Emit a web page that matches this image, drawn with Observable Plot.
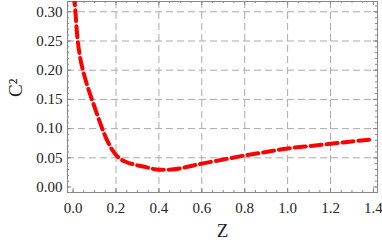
<!DOCTYPE html>
<html><head><meta charset="utf-8">
<script src="https://cdn.jsdelivr.net/npm/d3@7"></script>
<script src="https://cdn.jsdelivr.net/npm/@observablehq/plot@0.6"></script>
<style>body{margin:0;background:#fff} svg, svg text, svg g{font-family:"Liberation Serif","Times New Roman",Times,Tinos,"Noto Serif","DejaVu Serif",serif !important;}</style>
</head><body><div id="chart"></div>
<script>
const zValues = [0.005, 0.011, 0.02, 0.03, 0.04, 0.06, 0.08, 0.10, 0.12, 0.14, 0.16, 0.18, 0.20, 0.22, 0.24, 0.26, 0.28, 0.30, 0.34, 0.38, 0.42, 0.46, 0.50, 0.55, 0.60, 0.70, 0.80, 0.90, 1.00, 1.10, 1.20, 1.30, 1.38];
const c2Values = [0.33, 0.30, 0.256, 0.228, 0.209, 0.181, 0.158, 0.137, 0.116, 0.096, 0.079, 0.065, 0.055, 0.048, 0.044, 0.041, 0.039, 0.037, 0.034, 0.0305, 0.0295, 0.030, 0.032, 0.036, 0.040, 0.047, 0.054, 0.060, 0.066, 0.070, 0.074, 0.078, 0.081];
const xMajor = [0.0, 0.2, 0.4, 0.6, 0.8, 1.0, 1.2, 1.4];
const xMinor = d3.range(0, 1.42, 0.05).map(v => +v.toFixed(2));
const yMajor = [0.00, 0.05, 0.10, 0.15, 0.20, 0.25, 0.30];
const yMinor = d3.range(0, 0.315, 0.01).map(v => +v.toFixed(2));
const xGrid = [0.2, 0.4, 0.6, 0.8, 1.0, 1.2];
const yGrid = [0.05, 0.10, 0.15, 0.20, 0.25, 0.30];

const data = zValues.map((z, i) => ({z, c: c2Values[i]}));
const W = 382, H = 248, mL = 67, mR = 5, mT = 1, mB = 56;
const innerH = H - mT - mB, innerW = W - mL - mR;
const tickCol = "#888";
const serif = "'Liberation Serif', 'Times New Roman', Times, serif";

const chart = Plot.plot({
  width: W, height: H,
  marginLeft: mL, marginRight: mR, marginTop: mT, marginBottom: mB,
  style: {fontFamily: serif, background: "#fff"},
  x: {domain: [-0.026, 1.419]},
  y: {domain: [-0.0094, 0.3176]},
  marks: [
    Plot.gridX(xGrid, {stroke: "#aaa", strokeOpacity: 1, strokeDasharray: "7,4"}),
    Plot.gridY(yGrid, {stroke: "#aaa", strokeOpacity: 1, strokeDasharray: "7,4"}),
    Plot.tickX(xMinor, {x: d => d, insetTop: innerH - 2, stroke: tickCol}),
    Plot.tickX(xMinor, {x: d => d, insetBottom: innerH - 2, stroke: tickCol}),
    Plot.tickX(xMajor, {x: d => d, insetTop: innerH - 4, stroke: tickCol}),
    Plot.tickX(xMajor, {x: d => d, insetBottom: innerH - 4, stroke: tickCol}),
    Plot.tickY(yMinor, {y: d => d, insetRight: innerW - 2, stroke: tickCol}),
    Plot.tickY(yMinor, {y: d => d, insetLeft: innerW - 2, stroke: tickCol}),
    Plot.tickY(yMajor, {y: d => d, insetRight: innerW - 4, stroke: tickCol}),
    Plot.tickY(yMajor, {y: d => d, insetLeft: innerW - 4, stroke: tickCol}),
    Plot.frame({stroke: "#888"}),
    Plot.axisX(xMajor, {tickSize: 0, tickPadding: 10, fontSize: 15, fontFamily: serif, fill: "#222", tickFormat: d => d.toFixed(1), label: null}),
    Plot.axisY(yMajor, {tickSize: 0, tickPadding: 5, fontSize: 15, fontFamily: serif, fill: "#222", tickFormat: d => d.toFixed(2), label: null}),
    Plot.line(data, {x: "z", y: "c", curve: "catmull-rom", stroke: "#ff0000", strokeWidth: 4, strokeDasharray: "11,5", clip: true}),
    Plot.text(["C²"], {frameAnchor: "left", dx: -52, dy: 0, rotate: -90, fontSize: 19, fontFamily: serif, fill: "#222"}),
    Plot.text(["Z"], {frameAnchor: "bottom", dy: 44, fontSize: 19, fontFamily: serif, fill: "#222"})
  ]
});
document.getElementById("chart").appendChild(chart);
</script>
</body></html>
